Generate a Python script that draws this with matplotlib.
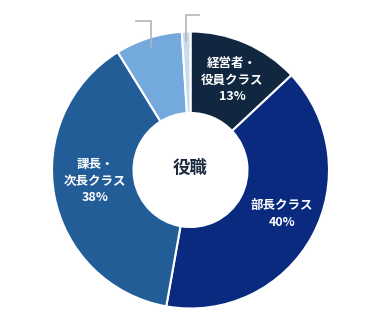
import numpy as np
import matplotlib.pyplot as plt

plt.rcParams['font.family'] = ['Noto Sans CJK JP', 'DejaVu Sans']

categories = ['経営者・\n役員クラス', '部長クラス', '課長・\n次長クラス', 'その他1', 'その他2']
shares = [13.0, 39.8, 38.4, 7.8, 1.0]
pct_labels = ['13%', '40%', '38%', '', '']
colors = ['#11273f', '#0a2a80', '#235d98', '#74a9dd', '#c8dcf0']

W, H = 381, 312
fig = plt.figure(figsize=(W / 100, H / 100), dpi=100)
ax = fig.add_axes([0, 0, 1, 1])

cx, cy = 190.5, H - 170
R, r_in = 138.5, 57

wedges, _ = ax.pie(shares, colors=colors, startangle=90, counterclock=False,
                   center=(cx, cy), radius=R,
                   wedgeprops=dict(width=R - r_in, edgecolor='white', linewidth=1.5))
ax.set_xlim(0, W)
ax.set_ylim(0, H)
ax.set_aspect('auto')
ax.axis('off')

# labels inside the big slices (pixel positions of the reference)
label_pos = [(232, 80), (282, 214), (95, 181)]
for (px, py), cat, pct in zip(label_pos, categories[:3], pct_labels[:3]):
    ax.text(px, H - py, cat + '\n' + pct, ha='center', va='center',
            color='white', fontsize=9, fontweight='bold', linespacing=1.35)

# leader lines for the two small slices
grey = '#b4b4b4'
tops = [H - 21, H - 15]
dirs = [-15, 13]
for w, ytop, dx in zip(wedges[3:], tops, dirs):
    mid = np.deg2rad((w.theta1 + w.theta2) / 2)
    x0 = cx + 0.93 * R * np.cos(mid)
    y0 = cy + 0.93 * R * np.sin(mid)
    ax.plot([x0, x0, x0 + dx], [y0, ytop, ytop], color=grey, linewidth=1.2,
            solid_joinstyle='miter')

ax.text(cx, H - 168, '役職', ha='center', va='center', color='#1b2a3c',
        fontsize=12.5, fontweight='bold')

plt.savefig('out.png', dpi=100)
